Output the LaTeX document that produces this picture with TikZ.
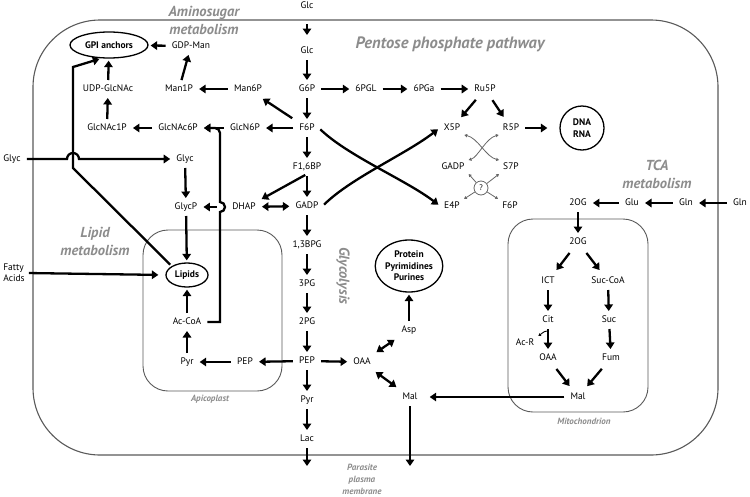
\documentclass[tikz,border=0pt]{standalone}
\usepackage{fontspec}
\setmainfont{PT Sans}
\usetikzlibrary{arrows.meta,shapes.geometric}

\begin{document}
\begin{tikzpicture}[x=1pt,y=-1pt,
                    sm/.tip={Triangle[length=2.8pt,width=3.2pt]},
                    met/.style={font=\fontsize{9.5}{11}\selectfont, inner xsep=4pt, inner ysep=2.5pt, text height=6.8pt, text depth=1.8pt},
                    pool/.style={ellipse, draw, line width=1.3pt, font=\fontsize{9.5}{11.5}\selectfont\bfseries, inner sep=0pt, align=center},
                    rxn/.style={-{Triangle[length=6.5pt,width=8.5pt]}, line width=2.3pt, shorten >=2pt, shorten <=2pt},
                    rxnb/.style={{Triangle[length=6.5pt,width=8.5pt]}-{Triangle[length=6.5pt,width=8.5pt]}, line width=2.3pt, shorten >=2pt, shorten <=2pt},
                    diag/.style={shorten >=5pt, shorten <=5pt},
                    thinrx/.style={draw=black!60, line width=0.8pt},
                    membrane/.style={draw=black!65, line width=1.1pt},
                    region/.style={font=\fontsize{14.5}{18}\selectfont\bfseries\itshape, text=black!45, align=center},
                    compart/.style={font=\fontsize{9}{12}\selectfont\bfseries\itshape, text=black!45, align=center}
                ]
\useasboundingbox (0,0) rectangle (750,496);

% membranes
\draw[membrane, rounded corners=67pt] (33,20) rectangle (718,455);
\draw[membrane, line width=0.9pt, rounded corners=25pt] (143,230) rectangle (282,391);
\draw[membrane, line width=0.9pt, rounded corners=25pt] (508,219) rectangle (648,412);

% region labels
\node[region] (aminolab) at (204,20) {Aminosugar\\metabolism};
\node[region, font=\fontsize{16.5}{18}\selectfont\bfseries\itshape] (ppplab) at (450,44) {Pentose phosphate pathway};
\node[region] (tcalab) at (657,174) {TCA\\metabolism};
\node[region] (lipidlab) at (95,241) {Lipid\\metabolism};
\node[region, rotate=-90] (glylab) at (343,276) {Glycolysis};
\node[compart] (apilab) at (210,399) {Apicoplast};
\node[compart] (mitolab) at (584,421) {Mitochondrion};
\node[compart] (pmlab) at (362,479) {Parasite\\plasma\\membrane};

% glycolysis
\node[met] (glcout) at (307,6) {Glc};
\node[met] (glc) at (307,51) {Glc};
\node[met] (g6p) at (307,89) {G6P};
\node[met] (f6p) at (307,128) {F6P};
\node[met] (f16bp) at (307,167) {F1,6BP};
\node[met] (gadp) at (307,206) {GADP};
\node[met] (bpg) at (307,245) {1,3BPG};
\node[met] (pga3) at (307,284) {3PG};
\node[met] (pga2) at (307,322) {2PG};
\node[met] (pep) at (307,361) {PEP};
\node[met] (pyr) at (307,400) {Pyr};
\node[met] (lac) at (307,439) {Lac};
\coordinate (lacout) at (307,468);

% pentose phosphate pathway
\node[met] (pgl) at (366,89) {6PGL};
\node[met] (pga) at (424,89) {6PGa};
\node[met] (ru5p) at (485,89) {Ru5P};
\node[met] (x5p) at (452,128) {X5P};
\node[met] (r5p) at (511,128) {R5P};
\node[circle, draw, line width=1.3pt, minimum size=44pt, inner sep=0pt, align=center, font=\fontsize{9.5}{11.5}\selectfont\bfseries] (dna) at (582,128) {DNA\\RNA};
\node[met] (gadpb) at (453,167) {GADP};
\node[met] (s7p) at (511,167) {S7P};
\node[circle, thinrx, draw, minimum size=14pt, inner sep=0pt, font=\fontsize{8}{9}\selectfont] (q) at (481,188) {?};
\node[met] (e4p) at (452,206) {E4P};
\node[met] (f6pb) at (510,206) {F6P};

% aminosugar metabolism
\node[pool, minimum width=78pt, minimum height=26pt] (gpi) at (109,45) {GPI anchors};
\node[met] (gdpman) at (191,46) {GDP-Man};
\node[met] (man6p) at (248,89) {Man6P};
\node[met] (man1p) at (179,89) {Man1P};
\node[met] (udp) at (108,89) {UDP-GlcNAc};
\node[met] (glcnac1p) at (107,128) {GlcNAc1P};
\node[met] (glcnac6p) at (178,128) {GlcNAc6P};
\node[met] (glcn6p) at (245,128) {GlcN6P};

% lipid metabolism
\node[met] (glycout) at (12,159) {Glyc};
\node[met] (glyc) at (185,159) {Glyc};
\node[met] (glycp) at (186,207) {GlycP};
\node[met] (dhap) at (244,207) {DHAP};
\node[font=\fontsize{9.5}{11}\selectfont, inner sep=2pt, align=left] (fa) at (14,273) {Fatty\\Acids};
\node[pool, minimum width=42pt, minimum height=24pt] (lipids) at (187,275) {Lipids};
\node[met] (acoa) at (187,322) {Ac-CoA};
\node[met] (pyrb) at (187,362) {Pyr};
\node[met] (pepb) at (245,362) {PEP};
\coordinate (bendA) at (73,168);
\coordinate (bendB) at (73,67);
\coordinate (hopA) at (67,159);
\coordinate (bendC) at (220,322);
\coordinate (hopB) at (220,212);
\coordinate (bendE) at (220,180);
\coordinate (bendD) at (220,128);

% cytosolic anaplerosis
\node[met] (oaa) at (362,362) {OAA};
\node[met] (asp) at (409,330) {Asp};
\node[pool, minimum width=62pt, minimum height=52pt] (prot) at (409,266) {Protein\\Pyrimidines\\Purines};
\node[met] (mal) at (410,397) {Mal};
\coordinate (malout) at (410,468);

% TCA metabolism
\node[met] (glnout) at (740,203) {Gln};
\node[met] (gln) at (686,203) {Gln};
\node[met] (glu) at (632,203) {Glu};
\node[met] (og) at (578,203) {2OG};
\node[met] (og2) at (578,242) {2OG};
\node[met] (ict) at (548,281) {ICT};
\node[met] (succoa) at (608,281) {Suc-CoA};
\node[met] (cit) at (548,320) {Cit};
\node[met] (suc) at (609,320) {Suc};
\node[met] (oaab) at (548,358) {OAA};
\node[met] (fum) at (611,358) {Fum};
\node[met] (malb) at (578,397) {Mal};
\node[met] (acr) at (525,343) {Ac-R};
\coordinate (acrj) at (548,331);

% glycolysis reactions
\draw[rxn, shorten <=11pt, shorten >=9pt] (glcout) -- (glc);
\draw[rxn] (glc) -- (g6p);
\draw[rxn] (g6p) -- (f6p);
\draw[rxn] (f6p) -- (f16bp);
\draw[rxn] (f16bp) -- (gadp);
\draw[rxn] (f16bp.south) -- (dhap.north east);
\draw[rxnb] (dhap) -- (gadp);
\draw[rxn] (gadp) -- (bpg);
\draw[rxn] (bpg) -- (pga3);
\draw[rxn] (pga3) -- (pga2);
\draw[rxn] (pga2) -- (pep);
\draw[rxn] (pep) -- (pyr);
\draw[rxn] (pyr) -- (lac);
\draw[rxn] (lac) -- (lacout);

% pentose phosphate reactions
\draw[rxn] (g6p) -- (pgl);
\draw[rxn] (pgl) -- (pga);
\draw[rxn] (pga) -- (ru5p);
\draw[rxn, diag] (ru5p) -- (x5p);
\draw[rxn, diag] (ru5p) -- (r5p);
\draw[rxn, shorten >=12pt] (r5p) -- (dna);
\draw[rxn] (f6p.east) .. controls (348,156) and (406,180) .. (e4p.west);
\draw[rxn] (gadp.east) .. controls (351,178) and (406,154) .. (x5p.west);
\draw[thinrx, sm-sm] (x5p.south east) .. controls (478,138) and (486,157) .. (s7p.north west);
\draw[thinrx, sm-sm] (r5p.south west) .. controls (486,138) and (478,157) .. (gadpb.north east);
\draw[thinrx, sm-] (gadpb.south east) -- (q);
\draw[thinrx, sm-] (s7p.south west) -- (q);
\draw[thinrx, -sm] (q) -- (e4p.north east);
\draw[thinrx, -sm] (q) -- (f6pb.north west);

% aminosugar reactions
\draw[rxn, diag] (f6p) -- (man6p);
\draw[rxn] (f6p) -- (glcn6p);
\draw[rxn] (man6p) -- (man1p);
\draw[rxn] (man1p) -- (gdpman);
\draw[rxn] (gdpman) -- (gpi);
\draw[rxn] (udp) -- (gpi);
\draw[rxn] (glcn6p) -- (glcnac6p);
\draw[rxn] (glcnac6p) -- (glcnac1p);
\draw[rxn] (glcnac1p) -- (udp);

% lipid reactions
\draw[rxn] (glycout.east) -- (glycout.east -| hopA) arc[start angle=180, end angle=0, radius=6pt] -- (glyc.west);
\draw[rxn] (glyc) -- (glycp);
\draw[rxn, shorten <=11pt] (dhap) -- (glycp);
\draw[rxn] (glycp) -- (lipids);
\draw[rxn, shorten >=7pt] (fa.east) -- (lipids.west);
\draw[rxn] (acoa) -- (lipids);
\draw[rxn] (pyrb) -- (acoa);
\draw[rxn] (pepb) -- (pyrb);
\draw[rxn] (pep) -- (pepb);
\draw[rxn] (lipids.north west) -- (bendA) -- (bendB) -- (gpi.240);
\draw[rxn] (acoa.east) -- (bendC) -- (hopB) arc[start angle=-90, end angle=90, radius=5pt] -- (bendE) [rounded corners=5pt] -- (bendD) -- (glcnac6p.east);

% cytosol
\draw[rxn] (pep) -- (oaa);
\draw[rxnb, diag] (oaa) -- (asp);
\draw[rxnb, diag] (oaa) -- (mal);
\draw[rxn] (asp) -- (prot);
\draw[rxn] (mal) -- (malout);

% TCA reactions
\draw[rxn] (glnout) -- (gln);
\draw[rxn] (gln) -- (glu);
\draw[rxn] (glu) -- (og);
\draw[rxn] (og) -- (og2);
\draw[rxn, diag] (og2) -- (ict);
\draw[rxn, diag] (og2) -- (succoa);
\draw[rxn] (ict) -- (cit);
\draw[rxn] (succoa) -- (suc);
\draw[rxn] (cit) -- (oaab);
\draw[rxn] (suc) -- (fum);
\draw[rxn, diag] (oaab) -- (malb);
\draw[rxn, diag] (fum) -- (malb);
\draw[rxn, shorten >=8pt] (malb) -- (mal);
\draw[line width=0.9pt, -{Triangle[length=2.5pt,width=3pt]}] (acrj) .. controls (545,331) .. (acr.north east);

\end{tikzpicture}
\end{document}
